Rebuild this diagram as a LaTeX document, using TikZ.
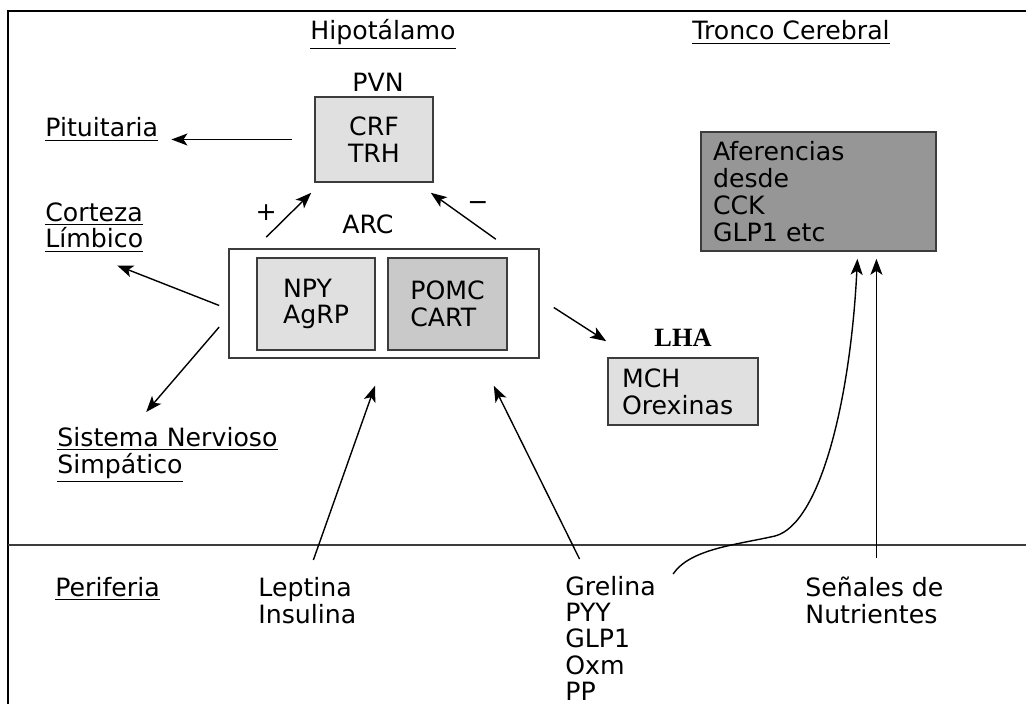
\documentclass[tikz,border=0pt]{standalone}
\usepackage{fontspec}
\setmainfont{DejaVu Sans}
\newfontfamily\serifbold{Liberation Serif}
\usepackage{tikz}
\usetikzlibrary{positioning, arrows.meta}
\usepackage{xcolor}
\definecolor{lightbox}{RGB}{224, 224, 224}
\definecolor{midbox}{RGB}{201, 201, 201}
\definecolor{darkbox}{RGB}{150, 150, 150}
\definecolor{edge}{RGB}{60, 60, 60}

\begin{document}
\begin{tikzpicture}[
        x=0.5pt, y=-0.5pt,
        >={Stealth[length=8pt, width=6pt, inset=2pt]},
        every node/.style={font=\fontsize{12.6}{13.4}\selectfont, inner sep=0pt},
        box/.style={draw=edge, line width=0.8pt, align=center},
        txt/.style={align=left},
        conn/.style={->, line width=0.7pt}
    ]
        \useasboundingbox (0,0) rectangle (1026,704);
        \draw[line width=1.2pt] (8,704) -- (8,11) -- (1026,11);
        \draw[line width=0.8pt, edge] (8,545) -- (1026,545);

        \node[anchor=base] (hipo) at (383,40) {\underline{Hipotálamo}};
        \node[anchor=base] (tronc) at (791,40) {\underline{Tronco Cerebral}};

        \node[box, fill=lightbox, minimum width=59pt, minimum height=42.5pt] (pvn) at (374,139.5) {CRF\\TRH};
        \node[above=2pt of pvn, xshift=2pt] (pvnlbl) {PVN};
        \node[box, minimum width=155pt, minimum height=54.5pt] (arc) at (384,303.5) {};
        \node[above=7pt of arc, xshift=-8pt] (arclbl) {ARC};
        \node[box, align=left, fill=lightbox, minimum width=59pt, minimum height=46pt] (npy) at (316,304) {NPY\\AgRP};
        \node[box, align=left, fill=midbox, minimum width=59.5pt, minimum height=46pt] (pomc) at (447.5,304) {POMC\\CART};
        \node[box, align=left, fill=lightbox, text width=61pt, inner xsep=7pt, minimum height=33.5pt] (lha) at (683,391.5) {MCH\\Orexinas};
        \node[above=5pt of lha, font=\serifbold\bfseries\fontsize{13.2}{15}\selectfont] (lhalbl) {LHA};
        \node[box, align=left, fill=darkbox, text width=105.5pt, inner xsep=6pt, minimum height=59.5pt] (tronco) at (818.5,191.5) {Aferencias\\desde\\CCK\\GLP1 etc};

        \node[anchor=base west] (pit) at (45,137) {\underline{Pituitaria}};
        \node[txt, anchor=north west] (cort) at (45,202) {\underline{Corteza}\\\underline{Límbico}};
        \node[txt, anchor=north west] (sns) at (57,427) {\underline{Sistema Nervioso}\\\underline{Simpático}};
        \node[txt, anchor=north west] (peri) at (55,577) {\underline{Periferia}};
        \node[txt, anchor=north west] (lep) at (258,577) {Leptina\\Insulina};
        \node[txt, anchor=north west, font=\fontsize{12.6}{13.1}\selectfont] (grel) at (565,576) {Grelina\\PYY\\GLP1\\Oxm\\PP};
        \node[txt, anchor=north west] (sen) at (805,577) {Señales de\\Nutrientes};

        \draw[conn] ([xshift=-11pt]pvn.west) -- ([xshift=6.5pt]pvn.west -| pit.east);
        \draw[conn] ([shift={(19pt,5.5pt)}]arc.north west) -- node[at start, yshift=12.5pt] {+} ([shift={(-1.5pt,-5pt)}]pvn.south west);
        \draw[conn] ([shift={(-22pt,4.5pt)}]arc.north east) -- node[at start, xshift=-9pt, yshift=16.5pt] {−} ([shift={(-1.5pt,-5pt)}]pvn.south east);
        \draw[conn] ([shift={(-4.5pt,-1pt)}]arc.west) -- ++(-51pt,20pt);
        \draw[conn] ([shift={(-4.5pt,-11.75pt)}]arc.west) -- ++(-36.5pt,-42.5pt);
        \draw[conn] ([shift={(7pt,-2pt)}]arc.east) -- ([shift={(-0.5pt,8pt)}]lha.north west);
        \draw[conn] ([shift={(3pt,8.5pt)}]lep.north) -- ([shift={(-4.5pt,-13.5pt)}]arc.south);
        \draw[conn] ([shift={(-15.5pt,8.5pt)}]grel.north) -- ([shift={(-23pt,-13.5pt)}]arc.south east);
        \draw[conn] ([shift={(1pt,9.5pt)}]sen.north) -- ([shift={(1pt,-3.5pt)}]sen.north |- tronco.south);
        \draw[conn] ([shift={(8.5pt,1pt)}]grel.north east) .. controls +(8.5pt,12.5pt) and +(-20pt,-4.5pt) .. ++(51pt,19pt)
            .. controls +(22.5pt,6pt) and +(-3.5pt,-71pt) .. ([shift={(-8.5pt,-3.5pt)}]sen.north |- tronco.south);
    \end{tikzpicture}
\end{document}
